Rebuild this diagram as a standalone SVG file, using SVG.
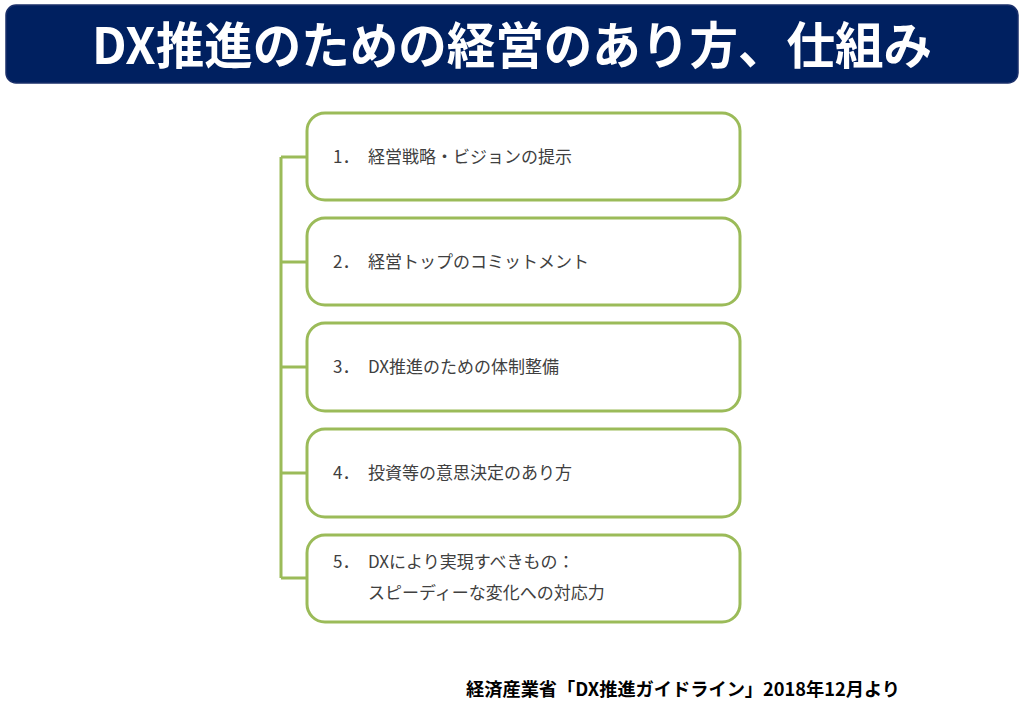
<svg xmlns="http://www.w3.org/2000/svg" width="1024" height="709" viewBox="0 0 1024 709">
<style>
.box{fill:#fff;stroke:#9bbb59;stroke-width:3}
.conn{fill:none;stroke:#9bbb59;stroke-width:3}
.lbl{font-family:"Noto Sans CJK JP","Noto Sans",sans-serif;font-size:17px;fill:#404040}
.title{font-family:"Noto Sans CJK JP",sans-serif;font-weight:bold;font-size:50px;fill:#fff}
.foot{font-family:"Noto Sans CJK JP",sans-serif;font-weight:bold;font-size:18px;fill:#000}
</style>
<rect width="1024" height="709" fill="#fff"/>
<g id="title">
<rect x="6" y="5" width="1012" height="78" rx="10" fill="#002060" stroke="#1a2f6a" stroke-width="1.5"/>
<text class="title" x="512" y="64" text-anchor="middle" textLength="840" lengthAdjust="spacingAndGlyphs">DX推進のための経営のあり方、仕組み</text>
</g>
<g id="connectors">
<path class="conn" d="M281 157V578M281 157H307M281 262H307M281 367H307M281 473H307M281 578H307"/>
</g>
<g id="n1"><rect class="box" x="307" y="113" width="433" height="87" rx="18"/>
<text class="lbl" x="333" y="163">1．</text><text class="lbl" x="368" y="163">経営戦略・ビジョンの提示</text></g>
<g id="n2"><rect class="box" x="307" y="218" width="433" height="87" rx="18"/>
<text class="lbl" x="333" y="268">2．</text><text class="lbl" x="368" y="268">経営トップのコミットメント</text></g>
<g id="n3"><rect class="box" x="307" y="323" width="433" height="88" rx="18"/>
<text class="lbl" x="333" y="373">3．</text><text class="lbl" x="368" y="373">DX推進のための体制整備</text></g>
<g id="n4"><rect class="box" x="307" y="429" width="433" height="88" rx="18"/>
<text class="lbl" x="333" y="479">4．</text><text class="lbl" x="368" y="479">投資等の意思決定のあり方</text></g>
<g id="n5"><rect class="box" x="307" y="535" width="433" height="87" rx="18"/>
<text class="lbl" x="333" y="568">5．</text><text class="lbl" x="368" y="568">DXにより実現すべきもの：</text>
<text class="lbl" x="368" y="599">スピーディーな変化への対応力</text></g>
<g id="footer">
<text class="foot" x="466" y="696" textLength="434" lengthAdjust="spacingAndGlyphs">経済産業省「DX推進ガイドライン」2018年12月より</text>
</g>
</svg>
